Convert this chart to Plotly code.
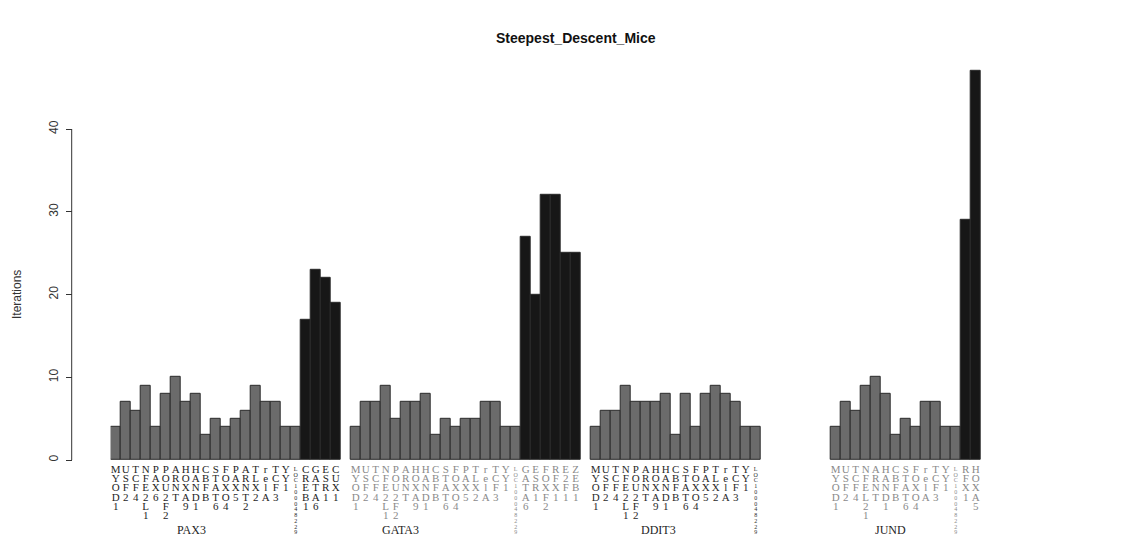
import plotly.graph_objects as go

# ---------------- data ----------------
title_text = "Steepest_Descent_Mice"
y_title = "Iterations"

group_names = ["PAX3", "GATA3", "DDIT3", "JUND"]
group_slots = [23, 23, 23, 15]          # bar slots reserved per group
group_label_pos = [7.6, 4.5, 6.3, 5.5]  # label position (in slots) inside group
group_text_colors = ["#1e1e1e", "#8a8a8a", "#2a2a2a", "#8a8a8a"]

pax3_grey_genes = ["MYOD1", "USF2", "TCF4", "NFE2L1", "PAX6", "POU2F2", "ARNT", "HOXA9",
                   "HAND1", "CBFB", "STAT6", "FOXO4", "PAX5", "ARNT2", "TLX2", "relA",
                   "TCF3", "YY1", "LOC100048229"]
pax3_grey_vals = [4, 7, 6, 9, 4, 8, 10, 7, 8, 3, 5, 4, 5, 6, 9, 7, 7, 4, 4]
pax3_black_genes = ["CREB1", "GATA6", "ESR1", "CUX1"]
pax3_black_vals = [17, 23, 22, 19]

gata3_grey_genes = ["MYOD1", "USF2", "TCF4", "NFE2L1", "POU2F2", "ARNT", "HOXA9", "HAND1",
                    "CBFB", "STAT6", "FOXO4", "PAX5", "TLX2", "relA", "TCF3", "YY1",
                    "LOC100048229"]
gata3_grey_vals = [4, 7, 7, 9, 5, 7, 7, 8, 3, 5, 4, 5, 5, 7, 7, 4, 4]
gata3_black_genes = ["GATA6", "ESR1", "FOXF2", "RFX1", "E2F1", "ZEB1"]
gata3_black_vals = [27, 20, 32, 32, 25, 25]

ddit3_grey_genes = ["MYOD1", "USF2", "TCF4", "NFE2L1", "POU2F2", "ARNT", "HOXA9", "HAND1",
                    "CBFB", "STAT6", "FOXO4", "PAX5", "TLX2", "relA", "TCF3", "YY1",
                    "LOC100048229"]
ddit3_grey_vals = [4, 6, 6, 9, 7, 7, 7, 8, 3, 8, 4, 8, 9, 8, 7, 4, 4]
ddit3_black_genes = []
ddit3_black_vals = []

jund_grey_genes = ["MYOD1", "USF2", "TCF4", "NFEL21", "ARNT", "HAND1", "CBFB", "STAT6",
                   "FOXO4", "relA", "TCF3", "YY1", "LOC100048229"]
jund_grey_vals = [4, 7, 6, 9, 10, 8, 3, 5, 4, 7, 7, 4, 4]
jund_black_genes = ["RFX1", "HOXA5"]
jund_black_vals = [29, 47]

y_ticks = [0, 10, 20, 30, 40]

groups = [
    (pax3_grey_genes, pax3_grey_vals, pax3_black_genes, pax3_black_vals),
    (gata3_grey_genes, gata3_grey_vals, gata3_black_genes, gata3_black_vals),
    (ddit3_grey_genes, ddit3_grey_vals, ddit3_black_genes, ddit3_black_vals),
    (jund_grey_genes, jund_grey_vals, jund_black_genes, jund_black_vals),
]

# ---------------- styles ----------------
GREY = "#6b6b6b"
BLACK = "#171717"
EDGE = "#2a2a2a"
W, H = 1146, 542
PX_PER_UNIT = 8.275           # pixel per iteration unit
Y0_PX = 460                   # pixel row of y = 0
Y_MAX = 48.0
Y_MIN = -(H - Y0_PX) / PX_PER_UNIT
ROW_STEP = 1.10               # label row spacing in data units
ROW0 = -1.27                  # first label row (data units)
SMALL_STEP = 0.70

# ---------------- build ----------------
bx, by, bc = [], [], []
tx, ty, tt, tcol, tsize = [], [], [], [], []
group_starts = []
start = 0
for gi, (gg, gv, kg, kv) in enumerate(groups):
    group_starts.append(start)
    genes = gg + kg
    vals = gv + kv
    cols = [GREY] * len(gg) + [BLACK] * len(kg)
    for i, (g, v, c) in enumerate(zip(genes, vals, cols)):
        pos = start + i
        bx.append(pos)
        by.append(v)
        bc.append(c)
        small = g.startswith("LOC")
        step = SMALL_STEP if small else ROW_STEP
        for r, ch in enumerate(g):
            tx.append(pos)
            ty.append(ROW0 - r * step + (0.15 if small else 0))
            tt.append(ch)
            tcol.append(group_text_colors[gi])
            tsize.append(6 if small else 11)
    start += group_slots[gi] + 1
n_slots = start - 1

fig = go.Figure()
fig.add_trace(go.Bar(
    x=bx, y=by, width=1.0, base=0,
    marker=dict(color=bc, line=dict(color=EDGE, width=1)),
    hoverinfo="x+y", showlegend=False,
))
fig.add_trace(go.Scatter(
    x=tx, y=ty, text=tt, mode="text",
    textfont=dict(family="Liberation Serif", size=tsize, color=tcol),
    cliponaxis=False, hoverinfo="skip", showlegend=False,
))

x_left_px, x_right_px = 110.7, 990.7
y_top_px = Y0_PX - Y_MAX * PX_PER_UNIT
axis_px = 71.7

fig.update_layout(
    width=W, height=H,
    template="none",
    paper_bgcolor="white", plot_bgcolor="white",
    margin=dict(l=0, r=0, t=0, b=0),
    bargap=0,
    xaxis=dict(
        domain=[x_left_px / W, x_right_px / W],
        range=[-0.5, n_slots + 0.5],
        showticklabels=False, ticks="", showgrid=False, zeroline=False,
        showline=False, automargin=False,
    ),
    yaxis=dict(
        domain=[0, (H - y_top_px) / H],
        range=[Y_MIN, Y_MAX],
        anchor="free", position=axis_px / W,
        tickvals=y_ticks, ticktext=[str(t) for t in y_ticks],
        ticks="outside", ticklen=6, tickwidth=1, tickcolor="#333333",
        tickangle=-90, ticklabelstandoff=3,
        tickfont=dict(family="Liberation Sans", size=12, color="#333333"),
        showgrid=False, zeroline=False, showline=False, automargin=False,
    ),
    shapes=[dict(type="line", xref="paper", yref="y",
                 x0=axis_px / W, x1=axis_px / W, y0=y_ticks[0], y1=y_ticks[-1],
                 line=dict(color="#333333", width=1))],
    annotations=[
        dict(text="<b>" + title_text + "</b>", xref="paper", yref="paper",
             x=576 / W, y=(H - 38) / H, showarrow=False,
             font=dict(family="Liberation Sans", size=14, color="#111111"),
             xanchor="center", yanchor="middle"),
        dict(text=y_title, xref="paper", yref="paper",
             x=17 / W, y=(H - 295) / H, showarrow=False, textangle=-90,
             font=dict(family="Liberation Sans", size=12, color="#333333"),
             xanchor="center", yanchor="middle"),
    ] + [
        dict(text=name, xref="x", yref="paper",
             x=group_starts[i] + group_label_pos[i], y=(H - 530) / H,
             showarrow=False,
             font=dict(family="Liberation Serif", size=12, color="#1e1e1e"),
             xanchor="center", yanchor="middle")
        for i, name in enumerate(group_names)
    ],
)

fig.write_html("out.html")
